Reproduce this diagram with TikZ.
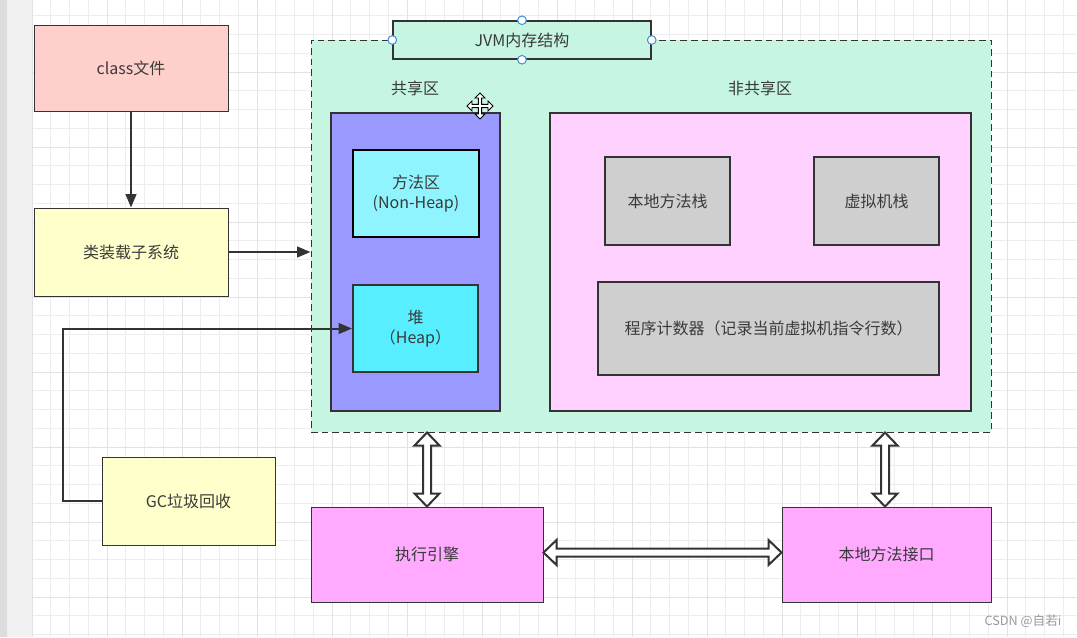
\documentclass[tikz,border=0pt]{standalone}
\usepackage{fontspec}
\setmainfont{Noto Sans CJK SC}
\usetikzlibrary{calc,arrows.meta}
\definecolor{linec}{HTML}{333333}
\definecolor{textc}{HTML}{3A3A3A}
\definecolor{gridc}{HTML}{EDEDED}
\definecolor{gridm}{HTML}{E2E2E2}
\definecolor{sidel}{HTML}{F0F0F0}
\definecolor{sided}{HTML}{DCDCDF}
\definecolor{salmon}{HTML}{FFD0CB}
\definecolor{lyellow}{HTML}{FFFFCC}
\definecolor{mint}{HTML}{C6F6E2}
\definecolor{lavender}{HTML}{9999FF}
\definecolor{lcyan}{HTML}{90F4FF}
\definecolor{cyan2}{HTML}{57EEFF}
\definecolor{lpink}{HTML}{FFD1FF}
\definecolor{lgray}{HTML}{CFCFCF}
\definecolor{pink}{HTML}{FFAAFF}
\definecolor{hblue}{HTML}{3D8FD9}
\definecolor{wm}{HTML}{9A9A9A}
\newcommand{\myVArrow}[2]{\draw[harrow] (#1) -- ($(#1)+(12.5,13)$) -- ($(#1)+(4,13)$) -- ($(#2)+(4,-13)$) -- ($(#2)+(12.5,-13)$) -- (#2) -- ($(#2)+(-12.5,-13)$) -- ($(#2)+(-4,-13)$) -- ($(#1)+(-4,13)$) -- ($(#1)+(-12.5,13)$) -- cycle;}
\newcommand{\myHArrow}[2]{\draw[harrow] (#1) -- ($(#1)+(13,-12.5)$) -- ($(#1)+(13,-4)$) -- ($(#2)+(-13,-4)$) -- ($(#2)+(-13,-12.5)$) -- (#2) -- ($(#2)+(-13,12.5)$) -- ($(#2)+(-13,4)$) -- ($(#1)+(13,4)$) -- ($(#1)+(13,12.5)$) -- cycle;}
\begin{document}
\begin{tikzpicture}[x=0.75pt,y=-0.75pt,
  sz/.style 2 args={minimum width=#1*0.75pt, minimum height=#2*0.75pt},
  box/.style={draw=linec, line width=0.75pt, inner sep=0pt, text=textc, align=center,
    font=\fontsize{12pt}{15pt}\selectfont},
  inbox/.style={box, line width=1.5pt},
  lbl/.style={text=textc, inner sep=0pt, font=\fontsize{12pt}{15pt}\selectfont},
  conn/.style={draw=linec, line width=1.5pt, -{Triangle[length=10pt,width=8pt]}},
  harrow/.style={draw=linec, line width=1.5pt, fill=white, line join=miter},
  handle/.style={circle, draw=hblue, fill=white, line width=0.75pt, minimum size=6.5pt, inner sep=0pt},
  gridminor/.style={draw=gridc, line width=0.75pt},
  gridmajor/.style={draw=gridm, line width=0.75pt}]
\useasboundingbox (0,0) rectangle (1077,637);
\fill[white] (0,0) rectangle (1077,637);
% grid
\foreach \i in {0,...,55} {\draw[gridminor] ({32+18.75*\i},0) -- ({32+18.75*\i},637);}
\foreach \i in {0,...,34} {\draw[gridminor] (32,{-3+18.75*\i}) -- (1077,{-3+18.75*\i});}
\foreach \i in {0,...,13} {\draw[gridmajor] ({32+75*\i},0) -- ({32+75*\i},637);}
\foreach \i in {1,...,8} {\draw[gridmajor] (32,{-3+75*\i}) -- (1077,{-3+75*\i});}
% side bar
\fill[sidel] (7,0) rectangle (32,637);
\fill[sided] (0,0) rectangle (7,637);

% JVM container
\node[box, fill=mint, dashed, dash pattern=on 5pt off 3pt, sz={680}{392}] (jvm) at (651,236) {};
\node[box, fill=mint, line width=1.1pt, sz={258}{38}] (title) at (522,40) {JVM内存结构};
\node[lbl] (sharedlbl) at (415,88) {共享区};
\node[lbl] (nslbl) at (760,88) {非共享区};

% shared area
\node[inbox, fill=lavender, sz={169}{298}] (shared) at (415.5,262) {};
\node[inbox, fill=lcyan, draw=black, line width=1.9pt, sz={126}{87}] (method) at (416,193.5) {方法区\\(Non-Heap)};
\node[inbox, fill=cyan2, sz={125}{87}] (heap) at (415.5,328.5) {堆\\（Heap）};

% non shared area
\node[inbox, fill=lpink, sz={421}{298}] (nonshared) at (760.5,262) {};
\node[inbox, fill=lgray, sz={125}{88}] (nstack) at (667.5,201) {本地方法栈};
\node[inbox, fill=lgray, sz={125}{88}] (vstack) at (876.5,201) {虚拟机栈};
\node[inbox, fill=lgray, sz={341}{93}] (pc) at (768.5,328.5) {程序计数器（记录当前虚拟机指令行数）};

% outside boxes
\node[box, fill=salmon, sz={194}{86}] (cls) at (131,68) {class文件};
\node[box, fill=lyellow, sz={194}{88}] (loader) at (131,252) {类装载子系统};
\node[box, fill=lyellow, sz={173}{88}] (gc) at (188.5,501) {GC垃圾回收};
\node[box, fill=pink, sz={232}{95}] (engine) at (427,554.5) {执行引擎};
\node[box, fill=pink, sz={209}{95}] (nativeif) at (886.5,554.5) {本地方法接口};

% connectors
\draw[conn] (cls) -- (loader);
\draw[conn] (loader.east) -- (loader.east -| jvm.west);
\draw[conn] (gc.west) -- ++(-39,0) |- (heap.west);

\coordinate (e1) at (engine.north |- jvm.south);
\myVArrow{e1}{engine.north}
\coordinate (e2) at ($(nativeif.north |- jvm.south)+(-1.5,0)$);
\coordinate (e2b) at ($(nativeif.north)+(-1.5,0)$);
\myVArrow{e2}{e2b}
\coordinate (h1l) at ($(engine.east)+(0,-2)$);
\coordinate (h1r) at ($(nativeif.west)+(0,-2)$);
\myHArrow{h1l}{h1r}

% selection handles
\node[handle] (hd1) at (title.west) {};
\node[handle] (hd2) at (title.east) {};
\node[handle] (hd3) at (title.north) {};
\node[handle] (hd4) at (title.south) {};

% move cursor
\draw[black, fill=white, line width=0.7pt, line join=miter, shift={(480,106)}]
  (0,-13) -- (5,-8) -- (1.6,-8) -- (1.6,-1.6) -- (8,-1.6) -- (8,-5) -- (13,0) -- (8,5) -- (8,1.6)
  -- (1.6,1.6) -- (1.6,8) -- (5,8) -- (0,13) -- (-5,8) -- (-1.6,8) -- (-1.6,1.6) -- (-8,1.6)
  -- (-8,5) -- (-13,0) -- (-8,-5) -- (-8,-1.6) -- (-1.6,-1.6) -- (-1.6,-8) -- (-5,-8) -- cycle;

% watermark
\node[text=wm, inner sep=0pt, font=\fontsize{9.5pt}{11pt}\selectfont] (wmark) at (1023,621) {CSDN @自若i};
\end{tikzpicture}
\end{document}
